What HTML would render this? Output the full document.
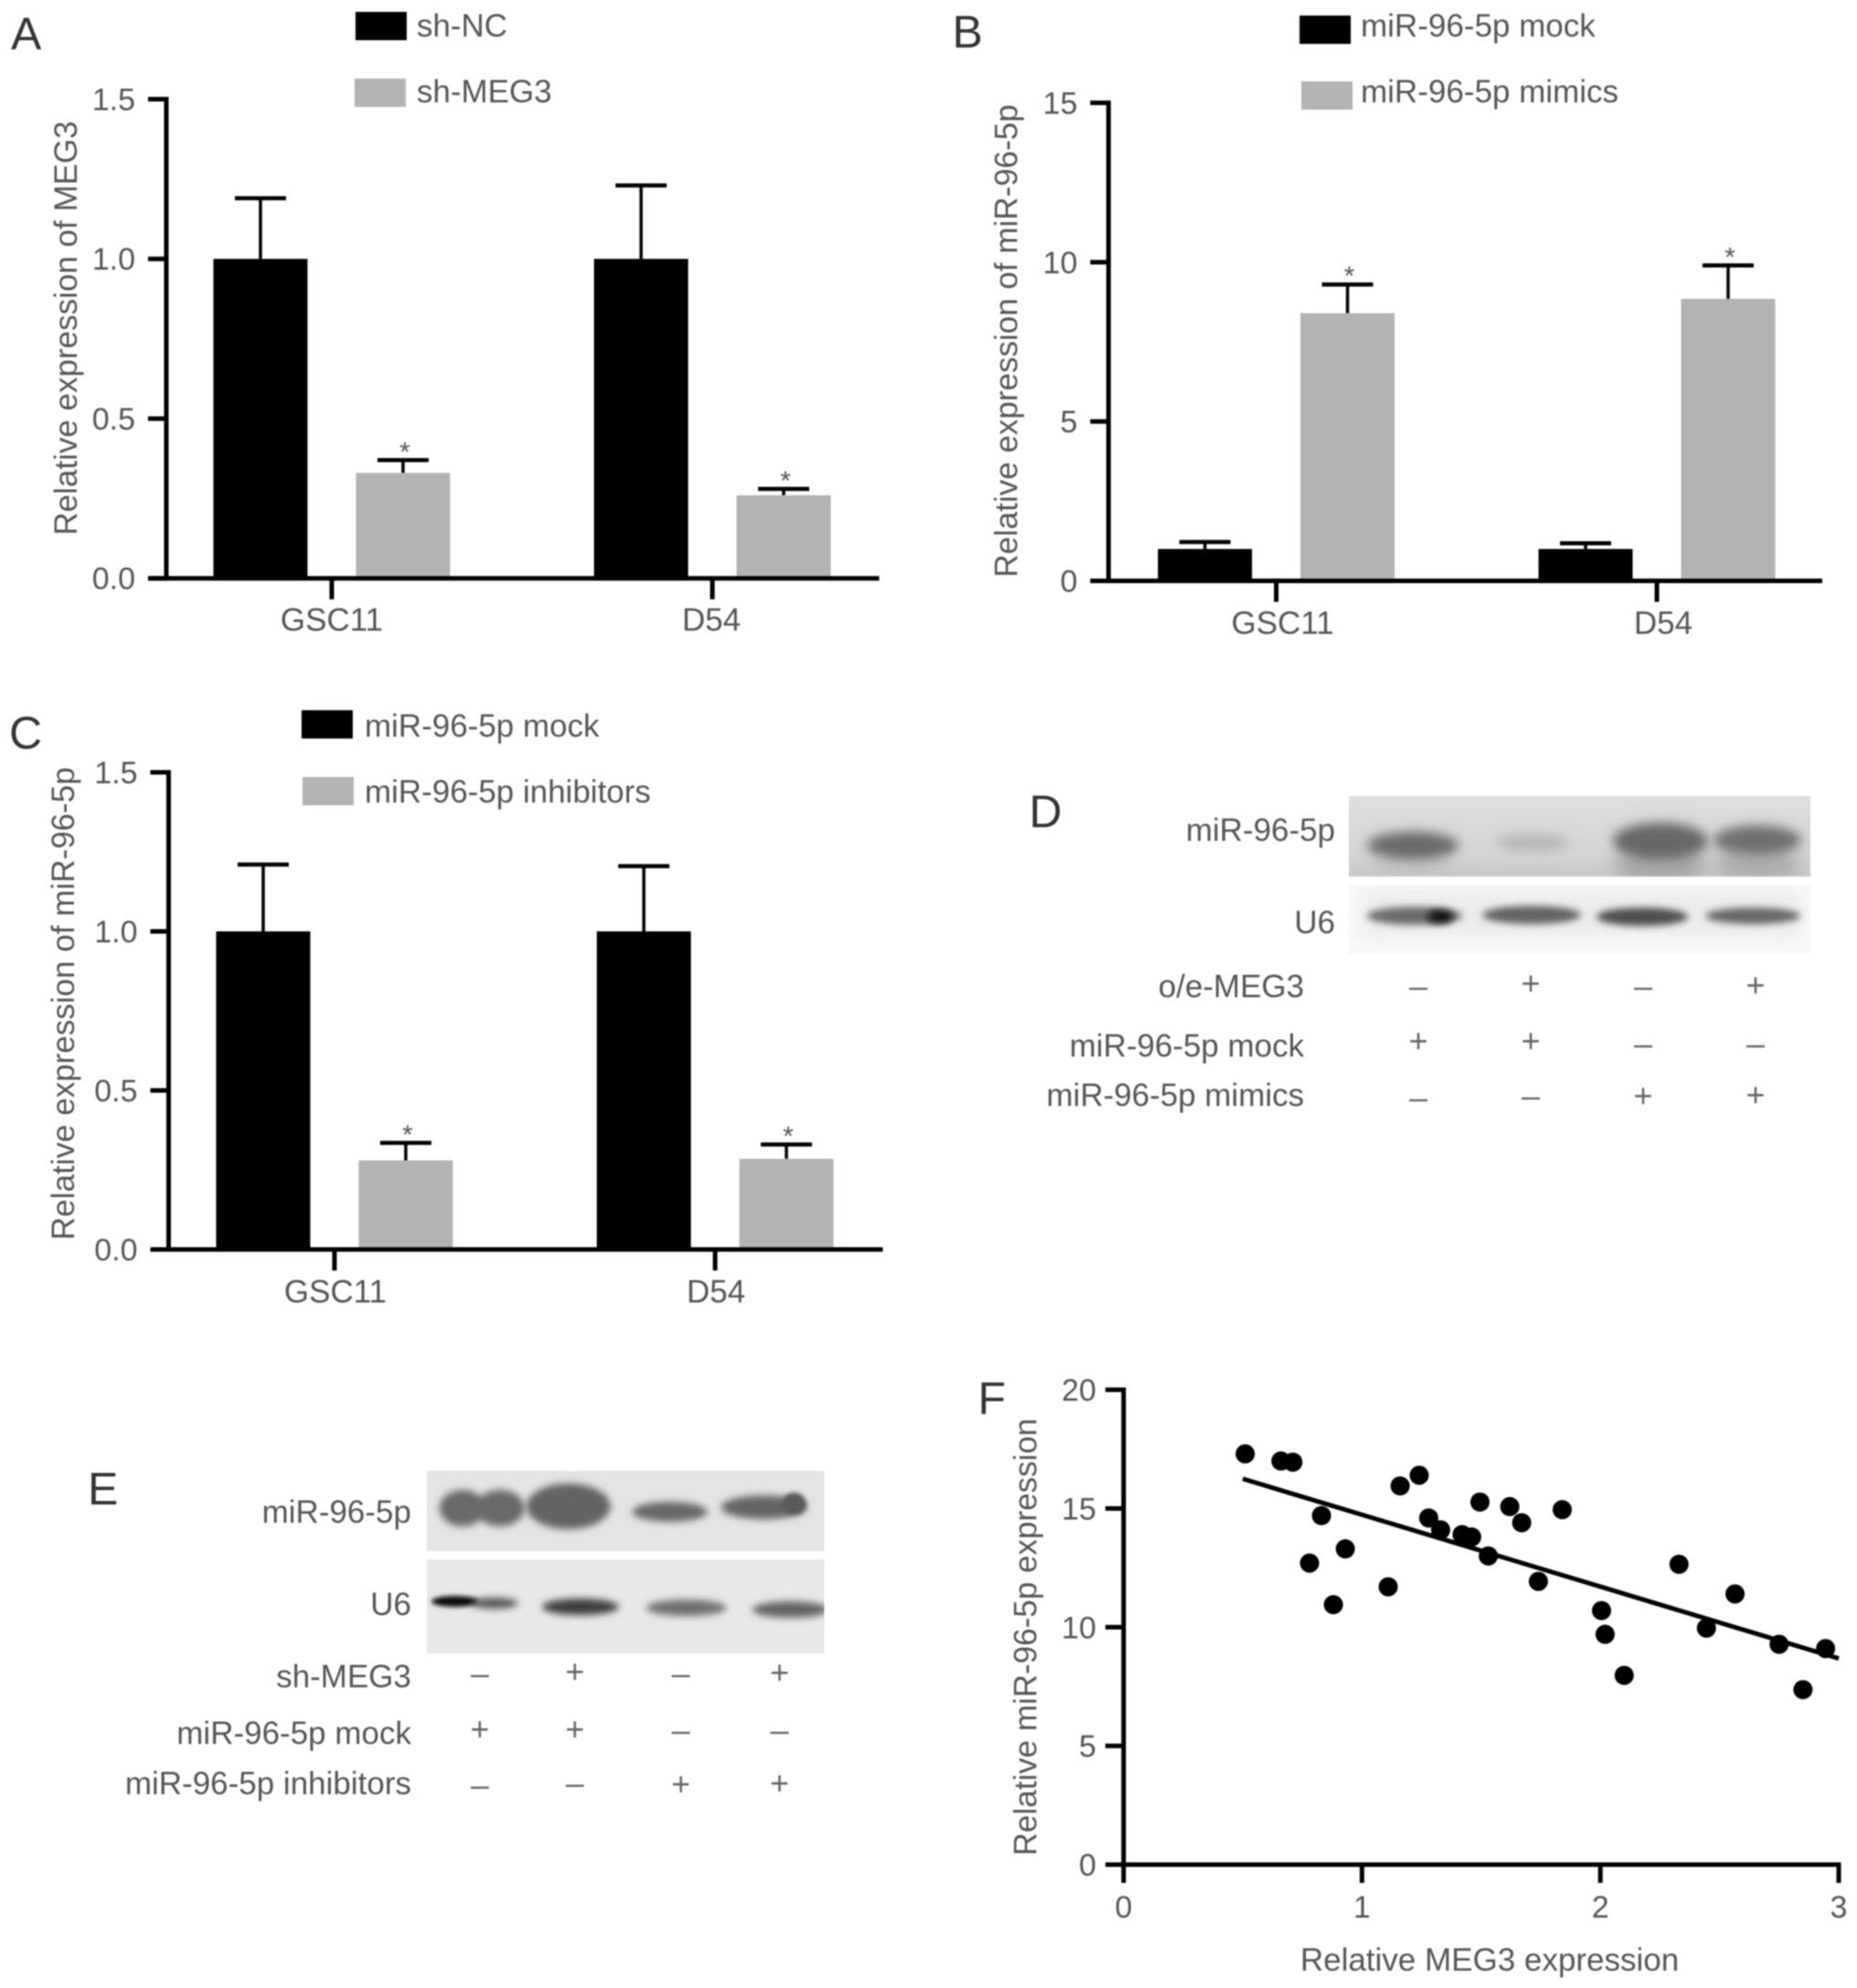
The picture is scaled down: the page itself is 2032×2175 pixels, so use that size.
<!DOCTYPE html>
<html lang="en">
<head>
<meta charset="utf-8">
<title>MEG3 and miR-96-5p expression figure</title>
<style>
html,body{margin:0;padding:0;background:#fff;}
#figure{display:block;width:2032px;height:2175px;filter:blur(0.8px);}
text{font-family:"Liberation Sans",sans-serif;fill:#555;}
.panel-letter{font-size:50px;fill:#333;}
.lbl{font-size:35px;}
.sign{font-size:36px;text-anchor:middle;fill:#666;}
</style>
</head>
<body>
<svg id="figure" xmlns="http://www.w3.org/2000/svg" width="2032" height="2175" viewBox="0 0 2032 2175">
<defs>
<filter id="b4" x="-40%" y="-150%" width="180%" height="400%"><feGaussianBlur stdDeviation="4"/></filter>
<filter id="b6" x="-40%" y="-150%" width="180%" height="400%"><feGaussianBlur stdDeviation="6"/></filter>
<filter id="b9" x="-40%" y="-150%" width="180%" height="400%"><feGaussianBlur stdDeviation="9"/></filter>
<filter id="b2" x="-40%" y="-150%" width="180%" height="400%"><feGaussianBlur stdDeviation="2.5"/></filter>
<linearGradient id="blotD1" x1="0" y1="0" x2="0" y2="1"><stop offset="0" stop-color="#dedede"/><stop offset="0.75" stop-color="#d4d4d4"/><stop offset="1" stop-color="#c8c8c8"/></linearGradient>
<clipPath id="clipD1"><rect x="1476" y="871" width="505" height="88"/></clipPath>
<clipPath id="clipD2"><rect x="1476" y="968" width="505" height="76"/></clipPath>
<clipPath id="clipE1"><rect x="467" y="1609" width="435" height="88"/></clipPath>
<clipPath id="clipE2"><rect x="467" y="1706" width="435" height="103"/></clipPath>
</defs>
<rect x="0" y="0" width="2032" height="2175" fill="#fff"/>

<text class="panel-letter" x="12" y="54">A</text>
<text class="panel-letter" x="1042" y="52">B</text>
<text class="panel-letter" x="10" y="819">C</text>
<text class="panel-letter" x="1126" y="905">D</text>
<text class="panel-letter" x="96" y="1646">E</text>
<text class="panel-letter" x="1070" y="1547">F</text>

<g id="panel-a"></g>
<g id="panel-b"></g>
<g id="panel-c"></g>

<g>
  <g clip-path="url(#clipD1)">
    <rect x="1476" y="871" width="505" height="88" fill="url(#blotD1)"/>
    <ellipse cx="1546" cy="945" rx="42" ry="18" fill="#c2c2c2" filter="url(#b9)"/>
    <ellipse cx="1817" cy="945" rx="50" ry="22" fill="#a6a6a6" filter="url(#b9)"/>
    <ellipse cx="1923" cy="945" rx="46" ry="22" fill="#adadad" filter="url(#b9)"/>
    <ellipse cx="1546" cy="925" rx="50" ry="15" fill="#6a6a6a" filter="url(#b6)"/>
    <ellipse cx="1677" cy="922" rx="40" ry="10" fill="#b8b8b8" filter="url(#b6)"/>
    <ellipse cx="1817" cy="920" rx="52" ry="20" fill="#686868" filter="url(#b6)"/>
    <ellipse cx="1923" cy="919" rx="48" ry="16" fill="#6f6f6f" filter="url(#b6)"/>
  </g>
  <g clip-path="url(#clipD2)">
    <rect x="1476" y="968" width="505" height="76" fill="#f8f8f8"/>
    <rect x="1490" y="975" width="480" height="50" fill="#ececec" filter="url(#b9)"/>
    <ellipse cx="1548" cy="1002" rx="52" ry="10" fill="#6a6a6a" filter="url(#b4)"/>
    <ellipse cx="1576" cy="1003" rx="14" ry="7" fill="#111" filter="url(#b4)"/>
    <ellipse cx="1676" cy="1001" rx="54" ry="10" fill="#626262" filter="url(#b4)"/>
    <ellipse cx="1797" cy="1003" rx="50" ry="10" fill="#4e4e4e" filter="url(#b4)"/>
    <ellipse cx="1918" cy="1002" rx="52" ry="9" fill="#666" filter="url(#b4)"/>
  </g>
  <text class="lbl" text-anchor="end" x="1461" y="920">miR-96-5p</text>
  <text class="lbl" text-anchor="end" x="1461" y="1021">U6</text>
  <text class="lbl" text-anchor="end" x="1427" y="1091">o/e-MEG3</text>
  <text class="lbl" text-anchor="end" x="1427" y="1156">miR-96-5p mock</text>
  <text class="lbl" text-anchor="end" x="1427" y="1210">miR-96-5p mimics</text>
  <g>
    <text class="sign" x="1552" y="1091">–</text><text class="sign" x="1675" y="1088">+</text><text class="sign" x="1798" y="1091">–</text><text class="sign" x="1921" y="1090">+</text>
    <text class="sign" x="1552" y="1151">+</text><text class="sign" x="1675" y="1151">+</text><text class="sign" x="1798" y="1154">–</text><text class="sign" x="1921" y="1154">–</text>
    <text class="sign" x="1552" y="1213">–</text><text class="sign" x="1675" y="1211">–</text><text class="sign" x="1798" y="1211">+</text><text class="sign" x="1921" y="1210">+</text>
  </g>
</g>

<g>
  <g clip-path="url(#clipE1)">
    <rect x="467" y="1609" width="435" height="88" fill="#e4e4e4"/>
    <ellipse cx="506" cy="1650" rx="25" ry="20" fill="#696969" filter="url(#b4)"/>
    <ellipse cx="547" cy="1650" rx="27" ry="20" fill="#696969" filter="url(#b4)"/>
    <ellipse cx="622" cy="1648" rx="46" ry="25" fill="#636363" filter="url(#b4)"/>
    <ellipse cx="733" cy="1654" rx="41" ry="11" fill="#686868" filter="url(#b4)"/>
    <ellipse cx="836" cy="1649" rx="47" ry="13" fill="#656565" filter="url(#b4)"/>
    <ellipse cx="869" cy="1645" rx="13" ry="12" fill="#5a5a5a" filter="url(#b2)"/>
  </g>
  <g clip-path="url(#clipE2)">
    <rect x="467" y="1706" width="435" height="103" fill="#e8e8e8"/>
    <ellipse cx="498" cy="1752" rx="26" ry="6" fill="#0c0c0c" filter="url(#b2)"/>
    <ellipse cx="541" cy="1754" rx="26" ry="6" fill="#555" filter="url(#b4)"/>
    <ellipse cx="635" cy="1758" rx="42" ry="9" fill="#3e3e3e" filter="url(#b4)"/>
    <ellipse cx="751" cy="1759" rx="44" ry="9" fill="#6f6f6f" filter="url(#b4)"/>
    <ellipse cx="865" cy="1761" rx="42" ry="9" fill="#646464" filter="url(#b4)"/>
  </g>
  <text class="lbl" text-anchor="end" x="450" y="1666">miR-96-5p</text>
  <text class="lbl" text-anchor="end" x="450" y="1767">U6</text>
  <text class="lbl" text-anchor="end" x="450" y="1846">sh-MEG3</text>
  <text class="lbl" text-anchor="end" x="450" y="1908">miR-96-5p mock</text>
  <text class="lbl" text-anchor="end" x="450" y="1963">miR-96-5p inhibitors</text>
  <g>
    <text class="sign" x="525" y="1843">–</text><text class="sign" x="629" y="1841">+</text><text class="sign" x="745" y="1843">–</text><text class="sign" x="853" y="1842">+</text>
    <text class="sign" x="525" y="1904">+</text><text class="sign" x="629" y="1904">+</text><text class="sign" x="745" y="1905">–</text><text class="sign" x="853" y="1905">–</text>
    <text class="sign" x="525" y="1965">–</text><text class="sign" x="629" y="1963">–</text><text class="sign" x="745" y="1964">+</text><text class="sign" x="853" y="1963">+</text>
  </g>
</g>

<g id="panel-f"></g>
</svg>

<script>
// ---- Chart data ----
const categories = ["GSC11", "D54"];

const panelATicks = [0, 0.5, 1.0, 1.5];
const panelATickLabels = ["0.0", "0.5", "1.0", "1.5"];
const panelASeriesNames = ["sh-NC", "sh-MEG3"];
const panelAControl = [1.0, 1.0];
const panelAControlErr = [1.19, 1.23];
const panelATreated = [0.33, 0.26];
const panelATreatedErr = [0.37, 0.28];

const panelBTicks = [0, 5, 10, 15];
const panelBTickLabels = ["0", "5", "10", "15"];
const panelBSeriesNames = ["miR-96-5p mock", "miR-96-5p mimics"];
const panelBControl = [1.0, 1.0];
const panelBControlErr = [1.22, 1.18];
const panelBTreated = [8.4, 8.85];
const panelBTreatedErr = [9.3, 9.9];

const panelCTicks = [0, 0.5, 1.0, 1.5];
const panelCTickLabels = ["0.0", "0.5", "1.0", "1.5"];
const panelCSeriesNames = ["miR-96-5p mock", "miR-96-5p inhibitors"];
const panelCControl = [1.0, 1.0];
const panelCControlErr = [1.21, 1.205];
const panelCTreated = [0.28, 0.285];
const panelCTreatedErr = [0.335, 0.33];

const panelFXTicks = [0, 1, 2, 3];
const panelFYTicks = [0, 5, 10, 15, 20];
const panelFPointsX = [0.51,0.66,0.71,0.78,0.83,0.88,0.93,1.11,1.16,1.24,1.28,1.33,1.42,1.46,1.495,1.53,1.62,1.67,1.74,1.84,2.005,2.02,2.10,2.33,2.445,2.565,2.75,2.85,2.945];
const panelFPointsY = [17.3,17.0,16.95,12.7,14.7,10.95,13.3,11.7,15.95,16.4,14.6,14.1,13.9,13.8,15.27,13.0,15.08,14.4,11.93,14.95,10.7,9.7,7.97,12.65,9.96,11.4,9.28,7.37,9.1];
const panelFFitX = [0.5, 3.0];
const panelFFitY = [16.25, 8.68];

// ---- Drawing helpers ----
const NS = "http://www.w3.org/2000/svg";
function mk(parent, tag, attrs) {
  const el = document.createElementNS(NS, tag);
  for (const k in attrs) el.setAttribute(k, attrs[k]);
  parent.appendChild(el);
  return el;
}
function line(parent, x1, y1, x2, y2, w) {
  return mk(parent, "line", {x1, y1, x2, y2, stroke: "#000", "stroke-width": w});
}
function label(parent, str, x, y, size, anchor) {
  const t = mk(parent, "text", {x, y, "font-size": size, "text-anchor": anchor || "start"});
  t.textContent = str;
  return t;
}
function linearScale(d0, d1, r0, r1) {
  return v => r0 + (v - d0) * (r1 - r0) / (d1 - d0);
}

function drawBarPanel(root, cfg, ticks, tickLabels, names, control, controlErr, treated, treatedErr) {
  const y = linearScale(cfg.yMin, cfg.yMax, cfg.y0, cfg.yTop);
  const x = i => cfg.cx0 + i * cfg.step;

  categories.forEach((cat, i) => {
    [[control, controlErr, -cfg.off, "#000", false, "control"], [treated, treatedErr, cfg.off, "#b3b3b3", true, "treated"]].forEach(s => {
      const cx = x(i) + s[2];
      const err = line(root, cx, y(s[0][i]), cx, y(s[1][i]), 3.5);
      
      
      const cap = line(root, cx - 28, y(s[1][i]), cx + 28, y(s[1][i]), 4.5);
      
      
      const bar = mk(root, "rect", {x: cx - cfg.barW / 2, y: y(s[0][i]), width: cfg.barW, height: y(cfg.yMin) - y(s[0][i]), fill: s[3]});
      
      
      if (s[4]) {
        const star = label(root, "*", cx + 2, y(s[1][i]) + 1, 30, "middle");
        
        
      }
    });
    const tick = line(root, x(i), cfg.y0, x(i), cfg.y0 + 23, 5);
    
    
    const catLabel = label(root, cat, x(i) + cfg.catShift[i], cfg.catY, 35, "middle");
    
    
  });

  const yAxis = line(root, cfg.ax, cfg.yTop - 2.5, cfg.ax, cfg.y0 + 2.5, 5);
  
  
  const xAxis = line(root, cfg.ax - 20, cfg.y0, cfg.axEnd, cfg.y0, 5);
  
  

  ticks.forEach((t, i) => {
    const tk = line(root, cfg.ax - 20, y(t), cfg.ax, y(t), 5);
    
    
    const tl = label(root, tickLabels[i], cfg.ax - 34, y(t) + 12, 34, "end");
    
    
  });

  const title = label(root, cfg.title, 0, 0, 35, "middle");
  title.setAttribute("transform", "translate(" + cfg.titleX + "," + cfg.titleY + ") rotate(-90)");
  
  

  names.forEach((nm, i) => {
    const sw = mk(root, "rect", {x: cfg.leg[i][0], y: cfg.leg[i][1], width: 56, height: 31, fill: i ? "#b3b3b3" : "#000"});
    
    
    const lt = label(root, nm, cfg.legX, cfg.leg[i][2], 35);
    
    
  });
}

drawBarPanel(document.getElementById("panel-a"), {
  yMin: 0, yMax: 1.5, y0: 632.7, yTop: 108.5, ax: 182, axEnd: 962,
  cx0: 363, step: 416.5, off: 78, barW: 103, catShift: [0, -1], catY: 690,
  title: "Relative expression of MEG3", titleX: 84, titleY: 359,
  leg: [[389, 13, 40], [388, 86, 112]], legX: 456
}, panelATicks, panelATickLabels, panelASeriesNames, panelAControl, panelAControlErr, panelATreated, panelATreatedErr);

drawBarPanel(document.getElementById("panel-b"), {
  yMin: 0, yMax: 15, y0: 635.5, yTop: 112.5, ax: 1213, axEnd: 1994,
  cx0: 1396.5, step: 416.5, off: 78, barW: 103, catShift: [7, 7], catY: 693.5,
  title: "Relative expression of miR-96-5p", titleX: 1113, titleY: 373,
  leg: [[1422, 17, 40], [1424, 89, 112]], legX: 1489
}, panelBTicks, panelBTickLabels, panelBSeriesNames, panelBControl, panelBControlErr, panelBTreated, panelBTreatedErr);

drawBarPanel(document.getElementById("panel-c"), {
  yMin: 0, yMax: 1.5, y0: 1367, yTop: 845, ax: 184.5, axEnd: 966,
  cx0: 366, step: 416.5, off: 78, barW: 103, catShift: [1, 1], catY: 1425,
  title: "Relative expression of miR-96-5p", titleX: 81, titleY: 1098,
  leg: [[330, 777, 806], [331, 850, 878]], legX: 399
}, panelCTicks, panelCTickLabels, panelCSeriesNames, panelCControl, panelCControlErr, panelCTreated, panelCTreatedErr);

(function drawScatter() {
  const root = document.getElementById("panel-f");
  const x = linearScale(0, 3, 1229.5, 2012);
  const y = linearScale(0, 20, 2040, 1520.5);

  const yAxis = line(root, x(0), y(20) - 2.5, x(0), y(0) + 20, 5);
  
  
  const xAxis = line(root, x(0) - 20, y(0), x(3) + 2.5, y(0), 5);
  
  

  panelFYTicks.forEach(t => {
    const tk = line(root, x(0) - 20, y(t), x(0), y(t), 5);
    
    
    const tl = label(root, String(t), x(0) - 30, y(t) + 12, 34, "end");
    
    
  });
  panelFXTicks.forEach(t => {
    const tk = line(root, x(t), y(0), x(t), y(0) + 20, 5);
    
    
    const tl = label(root, String(t), x(t), 2098, 34, "middle");
    
    
  });

  const fit = line(root, x(panelFFitX[0]), y(panelFFitY[0]), x(panelFFitX[1]), y(panelFFitY[1]), 5);
  
  

  panelFPointsX.forEach((px, i) => {
    const dot = mk(root, "circle", {cx: x(px), cy: y(panelFPointsY[i]), r: 10.5, fill: "#000"});
    
    
  });

  const xt = label(root, "Relative MEG3 expression", 1630, 2156, 35, "middle");
  
  
  const yt = label(root, "Relative miR-96-5p expression", 0, 0, 35, "middle");
  yt.setAttribute("transform", "translate(1134,1791) rotate(-90)");
  
  
})();
</script>
</body>
</html>
